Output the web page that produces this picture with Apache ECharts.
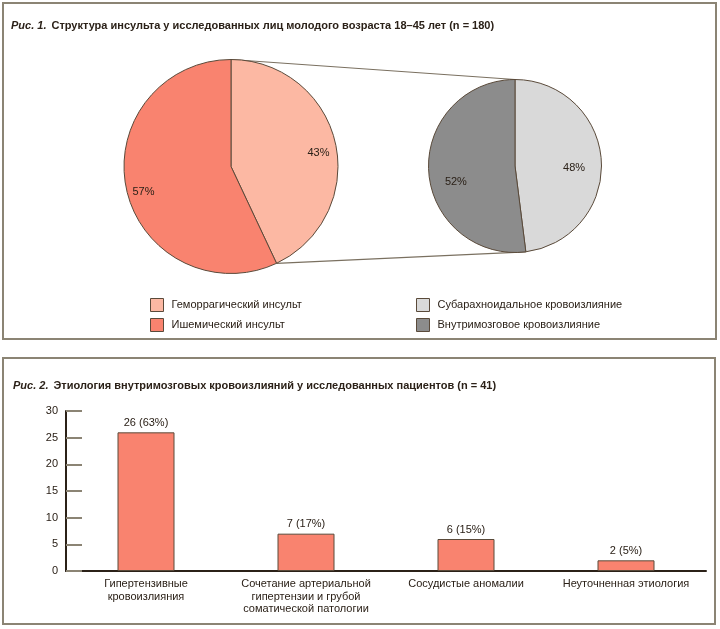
<!DOCTYPE html>
<html>
<head>
<meta charset="utf-8">
<script src="https://cdn.jsdelivr.net/npm/echarts@6/dist/echarts.min.js"></script>
<style>
  html, body { margin: 0; padding: 0; background: #fff; }
  #chart { width: 720px; height: 629px; }
</style>
</head>
<body>
<div id="chart"></div>
<script>
// Рис. 1 – структура инсульта
var strokeNames = ['Геморрагический инсульт', 'Ишемический инсульт'];
var strokeShares = [43, 57];
// вторичная диаграмма – геморрагический инсульт
var hemNames = ['Субарахноидальное кровоизлияние', 'Внутримозговое кровоизлияние'];
var hemShares = [48, 52];
// Рис. 2 – этиология
var etiologyCats = [
  'Гипертензивные\nкровоизлияния',
  'Сочетание артериальной\nгипертензии и грубой\nсоматической патологии',
  'Сосудистые аномалии',
  'Неуточненная этиология'
];
var etiologyCounts = [26, 7, 6, 2];
var etiologyPct = [63, 17, 15, 5];
var yMin = 0, yMax = 30, yStep = 5;

var ink = '#2b2118';
var edge = '#5a4a3a';
var frame = '#8b8474';
var font = 'Liberation Sans';
var strokeColors = ['#fcb8a3', '#f9836f'];
var hemColors = ['#d9d9d9', '#8c8c8c'];
// сдвиг подписей вниз пустыми строками (как в исходной диаграмме)
var strokeLabelDrop = ['\n', '\n'];
var hemLabelDrop = ['\n', '\n\n'];

// геометрия пирогов
var c1 = [231, 166.5], r1 = 107;
var c2 = [515, 166], r2 = 86.5;

function pt(c, r, share, total) {
  var a = share / total * 2 * Math.PI;
  return [c[0] + r * Math.sin(a), c[1] - r * Math.cos(a)];
}
var sum1 = strokeShares[0] + strokeShares[1];
var sum2 = hemShares[0] + hemShares[1];
var p1 = pt(c1, r1, strokeShares[0], sum1);
var p2 = pt(c2, r2, hemShares[0], sum2);

function pieData(names, vals, colors) {
  return names.map(function (n, i) {
    return { name: n, value: vals[i], itemStyle: { color: colors[i] } };
  });
}
function labelData(names, vals, drops) {
  return names.map(function (n, i) {
    return { name: n + ' ', value: vals[i], label: { formatter: drops[i] + '{d}%' } };
  });
}

var chart = echarts.init(document.getElementById('chart'));

var titleRich = {
  i: { fontStyle: 'italic', fontSize: 11, color: ink, fontFamily: font },
  b: { fontWeight: 'bold', fontSize: 11, color: ink, fontFamily: font }
};

var option = {
  backgroundColor: '#fff',
  animation: false,
  textStyle: { fontFamily: font },
  title: [
    {
      left: 11, top: 17, padding: 0,
      text: '{i|Рис. 1.} {b|Структура инсульта у исследованных лиц молодого возраста 18–45 лет (n = 180)}',
      textStyle: { rich: titleRich }
    },
    {
      left: 13, top: 377, padding: 0,
      text: '{i|Рис. 2.} {b|Этиология внутримозговых кровоизлияний у исследованных пациентов (n = 41)}',
      textStyle: { rich: titleRich }
    }
  ],
  legend: [
    {
      data: strokeNames,
      left: 150, top: 298, padding: 0,
      orient: 'vertical',
      icon: 'rect',
      itemWidth: 13, itemHeight: 13, itemGap: 6,
      selectedMode: false,
      itemStyle: { borderColor: edge, borderWidth: 1 },
      textStyle: { fontSize: 11, color: ink, padding: [0, 0, 0, 3] }
    },
    {
      data: hemNames,
      left: 416, top: 298, padding: 0,
      orient: 'vertical',
      icon: 'rect',
      itemWidth: 13, itemHeight: 13, itemGap: 6,
      selectedMode: false,
      itemStyle: { borderColor: edge, borderWidth: 1 },
      textStyle: { fontSize: 11, color: ink, padding: [0, 0, 0, 3] }
    }
  ],
  grid: { left: 66, right: 14, top: 411, bottom: 58 },
  xAxis: {
    type: 'category',
    data: etiologyCats,
    axisLine: { lineStyle: { color: ink, width: 2 } },
    axisTick: { inside: true, length: 5, lineStyle: { color: ink, width: 1 } },
    axisLabel: { color: ink, fontSize: 11, lineHeight: 12.5, margin: 7, interval: 0 }
  },
  yAxis: {
    type: 'value',
    min: yMin, max: yMax, interval: yStep,
    splitLine: { show: false },
    axisLine: { show: true, lineStyle: { color: ink, width: 2 } },
    axisTick: { show: true, inside: true, length: 16, lineStyle: { color: frame, width: 2 } },
    axisLabel: { color: ink, fontSize: 11, margin: 8 }
  },
  series: [
    {
      type: 'pie',
      center: c1, radius: r1,
      startAngle: 90,
      silent: true,
      label: { show: false },
      labelLine: { show: false },
      itemStyle: { borderColor: edge, borderWidth: 1 },
      data: pieData(strokeNames, strokeShares, strokeColors)
    },
    {
      type: 'pie',
      center: c1, radius: [r1 * 0.62, r1],
      startAngle: 90,
      silent: true,
      itemStyle: { color: 'rgba(0,0,0,0)' },
      label: { show: true, position: 'inside', color: ink, fontSize: 11, lineHeight: 12 },
      labelLine: { show: false },
      data: labelData(strokeNames, strokeShares, strokeLabelDrop)
    },
    {
      type: 'pie',
      center: c2, radius: r2,
      startAngle: 90,
      silent: true,
      label: { show: false },
      labelLine: { show: false },
      itemStyle: { borderColor: edge, borderWidth: 1 },
      data: pieData(hemNames, hemShares, hemColors)
    },
    {
      type: 'pie',
      center: c2, radius: [r2 * 0.3, r2],
      startAngle: 90,
      silent: true,
      itemStyle: { color: 'rgba(0,0,0,0)' },
      label: { show: true, position: 'inside', color: ink, fontSize: 11, lineHeight: 12 },
      labelLine: { show: false },
      data: labelData(hemNames, hemShares, hemLabelDrop)
    },
    {
      type: 'bar',
      data: etiologyCounts,
      barWidth: 57,
      itemStyle: { color: '#f9836f', borderColor: edge, borderWidth: 1 },
      label: {
        show: true, position: 'top', distance: 4,
        color: ink, fontSize: 11,
        formatter: function (p) {
          return p.value + ' (' + etiologyPct[p.dataIndex] + '%)';
        }
      }
    }
  ],
  graphic: [
    {
      type: 'rect', silent: true, z: -1,
      shape: { x: 3, y: 3, width: 713, height: 336 },
      style: { fill: 'none', stroke: frame, lineWidth: 2 }
    },
    {
      type: 'rect', silent: true, z: -1,
      shape: { x: 3, y: 358, width: 712, height: 266 },
      style: { fill: 'none', stroke: frame, lineWidth: 2 }
    },
    // соединительные линии между пирогами
    {
      type: 'line', silent: true,
      shape: { x1: c1[0], y1: c1[1] - r1, x2: c2[0], y2: c2[1] - r2 },
      style: { stroke: '#7a7060', lineWidth: 1.2 }
    },
    {
      type: 'line', silent: true,
      shape: { x1: p1[0], y1: p1[1], x2: p2[0], y2: p2[1] },
      style: { stroke: '#7a7060', lineWidth: 1.2 }
    }
  ]
};

chart.setOption(option);
</script>
</body>
</html>
